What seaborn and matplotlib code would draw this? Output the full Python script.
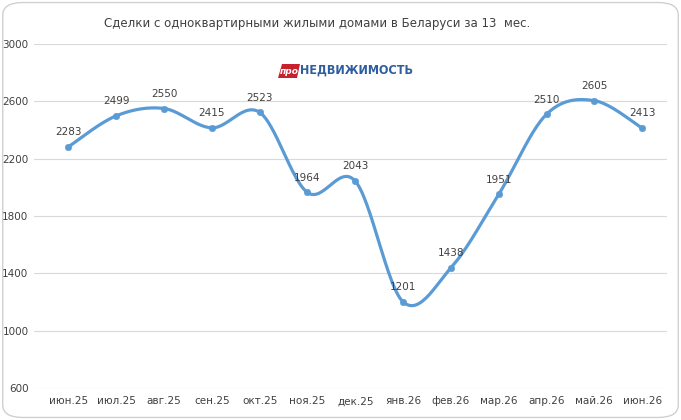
import numpy as np
import pandas as pd
import seaborn as sns
import matplotlib.pyplot as plt
from matplotlib.patches import FancyBboxPatch, Polygon

months = ["июн.25", "июл.25", "авг.25", "сен.25", "окт.25", "ноя.25", "дек.25",
          "янв.26", "фев.26", "мар.26", "апр.26", "май.26", "июн.26"]
deals = [2283, 2499, 2550, 2415, 2523, 1964, 2043, 1201, 1438, 1951, 2510, 2605, 2413]
y_ticks = [600, 1000, 1400, 1800, 2200, 2600, 3000]

LINE = "#5B9BD5"
TXT = "#404040"

sns.set_theme(style="white")
plt.rcParams['font.family'] = ['DejaVu Sans']

df = pd.DataFrame({"month": months, "deals": deals, "pos": np.arange(len(months))})


def smooth(x, y, n=30):
    # excel-like smoothed line: cubic bezier segments, catmull-rom controls
    x = np.asarray(x, float)
    y = np.asarray(y, float)
    px = np.concatenate([[x[0]], x, [x[-1]]])
    py = np.concatenate([[y[0]], y, [y[-1]]])
    xs, ys = [], []
    t = np.linspace(0, 1, n)
    for i in range(len(x) - 1):
        p0 = np.array([px[i + 1], py[i + 1]])
        p3 = np.array([px[i + 2], py[i + 2]])
        c1 = p0 + (np.array([px[i + 2], py[i + 2]]) - np.array([px[i], py[i]])) / 6
        c2 = p3 - (np.array([px[i + 3], py[i + 3]]) - np.array([px[i + 1], py[i + 1]])) / 6
        b = ((1 - t) ** 3)[:, None] * p0 + (3 * (1 - t) ** 2 * t)[:, None] * c1 \
            + (3 * (1 - t) * t ** 2)[:, None] * c2 + (t ** 3)[:, None] * p3
        xs.extend(b[:, 0])
        ys.extend(b[:, 1])
    return np.array(xs), np.array(ys)


fig = plt.figure(figsize=(6.81, 4.2), dpi=100)
fig.patch.set_alpha(0)
border = FancyBboxPatch((0.004, 0.006), 0.992, 0.988,
                        boxstyle="round,pad=0,rounding_size=0.03",
                        transform=fig.transFigure, fc="white",
                        ec="#D0D0D0", lw=1, zorder=-10)
fig.patches.append(border)
ax = fig.add_axes([34 / 681, 1 - 388 / 420, 633 / 681, 344 / 420])
ax.patch.set_alpha(0)

sx, sy = smooth(df["pos"], df["deals"])
sns.lineplot(x=sx, y=sy, ax=ax, color=LINE, lw=2.3, sort=False)
sns.scatterplot(data=df, x="pos", y="deals", ax=ax, color=LINE, s=22,
                edgecolor=LINE, zorder=3)

for p, v in zip(df["pos"], df["deals"]):
    ax.annotate(str(v), (p, v), xytext=(0, 7), textcoords="offset points",
                ha="center", va="bottom", fontsize=7.5, color=TXT)

ax.set_xlim(-0.72, 12.52)
ax.set_ylim(600, 3000)
ax.set_yticks(y_ticks)
ax.set_xticks(df["pos"])
ax.set_xticklabels(months)
ax.tick_params(axis="both", labelsize=7.5, colors=TXT, length=0, pad=6)
ax.tick_params(axis="y", pad=4)
ax.yaxis.grid(True, color="#D9D9D9", lw=0.8)
ax.set_xlabel("")
ax.set_ylabel("")
for s in ax.spines.values():
    s.set_visible(False)

fig.text(0.465, 0.945, "Сделки с одноквартирными жилыми домами в Беларуси за 13  мес.",
         ha="center", va="center", fontsize=8.5, color=TXT)

# logo
fig.patches.append(Polygon([[278 / 681, 1 - 78 / 420], [282 / 681, 1 - 64 / 420],
                            [300 / 681, 1 - 64 / 420], [297 / 681, 1 - 78 / 420]],
                           closed=True, transform=fig.transFigure, fc="#C8202F", ec="none"))
fig.text(289 / 681, 1 - 71.5 / 420, "про", ha="center", va="center", fontsize=6.5,
         color="white", fontweight="bold", style="italic")
fig.text(300 / 681, 1 - 70.5 / 420, "НЕДВИЖИМОСТЬ", ha="left", va="center",
         fontsize=9, color="#2E5E9E", fontweight="bold", fontstretch="condensed",
         family="DejaVu Sans")

fig.savefig("out.png", dpi=100)
